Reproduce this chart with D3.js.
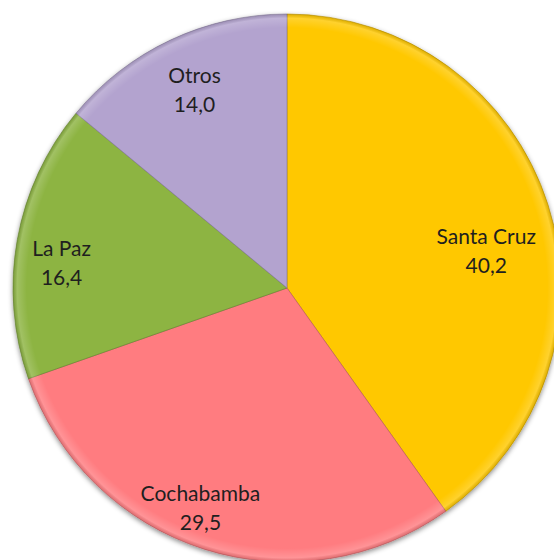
<!DOCTYPE html>
<html>
<head>
<meta charset="utf-8">
<script src="https://cdn.jsdelivr.net/npm/d3@7"></script>
<style>
  html, body { margin: 0; padding: 0; background: #ffffff; }
  svg { display: block; }
</style>
</head>
<body>
<svg id="chart" width="554" height="560"></svg>
<script>
// ---- data ----
const categories = ["Santa Cruz", "Cochabamba", "La Paz", "Otros"];
const values = [40.2, 29.5, 16.4, 14.0];
const valueLabels = ["40,2", "29,5", "16,4", "14,0"];
const colors = ["#FFC800", "#FF7C80", "#8DB443", "#B3A3CF"];

// ---- layout ----
const W = 554, H = 560;
const cx = 287, cy = 288, R = 274;
// label placement (radius, angle tweak in degrees) per slice
const labelRadius = [203, 235, 227, 220];
const labelAngleShift = [6.6, 4, -3.4, 0.3];

const svg = d3.select("#chart");
const defs = svg.append("defs");

const shadow = defs.append("filter").attr("id", "shadow")
  .attr("x", "-10%").attr("y", "-10%").attr("width", "120%").attr("height", "120%");
shadow.append("feDropShadow").attr("dx", 0).attr("dy", 2).attr("stdDeviation", 2.5)
  .attr("flood-color", "#000").attr("flood-opacity", 0.45);

// bevel-like overlay gradient (in the translated group's coordinates)
const bevel = defs.append("radialGradient").attr("id", "bevel")
  .attr("gradientUnits", "userSpaceOnUse")
  .attr("cx", 0).attr("cy", 0).attr("r", R);
bevel.append("stop").attr("offset", "0%").attr("stop-color", "#fff").attr("stop-opacity", 0);
bevel.append("stop").attr("offset", "95%").attr("stop-color", "#fff").attr("stop-opacity", 0);
bevel.append("stop").attr("offset", "98.5%").attr("stop-color", "#fff").attr("stop-opacity", 0.18);
bevel.append("stop").attr("offset", "100%").attr("stop-color", "#000").attr("stop-opacity", 0.12);

const pie = d3.pie().sort(null).value(d => d)(values);
const arc = d3.arc().innerRadius(0).outerRadius(R);

const g = svg.append("g").attr("transform", `translate(${cx},${cy})`);

const slices = g.append("g").attr("filter", "url(#shadow)");
slices.selectAll("path.slice").data(pie).join("path")
  .attr("class", "slice")
  .attr("d", arc)
  .attr("fill", (d, i) => colors[i])
  .attr("stroke", (d, i) => d3.color(colors[i]).darker(0.9))
  .attr("stroke-width", 1)
  .attr("stroke-opacity", 0.6);

g.selectAll("path.bev").data(pie).join("path")
  .attr("class", "bev")
  .attr("d", arc)
  .attr("fill", "url(#bevel)");

// labels
const labels = g.selectAll("g.lbl").data(pie).join("g").attr("class", "lbl")
  .attr("transform", (d, i) => {
    const mid = (d.startAngle + d.endAngle) / 2 + labelAngleShift[i] * Math.PI / 180;
    const r = labelRadius[i];
    return `translate(${r * Math.sin(mid)},${-r * Math.cos(mid)})`;
  });

labels.append("text")
  .attr("text-anchor", "middle")
  .attr("y", -5)
  .attr("font-family", "Lato, 'Open Sans', sans-serif")
  .attr("font-size", 21)
  .attr("fill", "#1f1f1f")
  .text((d, i) => categories[i]);

labels.append("text")
  .attr("text-anchor", "middle")
  .attr("y", 24)
  .attr("font-family", "Lato, 'Open Sans', sans-serif")
  .attr("font-size", 21)
  .attr("fill", "#1f1f1f")
  .text((d, i) => valueLabels[i]);
</script>
</body>
</html>
